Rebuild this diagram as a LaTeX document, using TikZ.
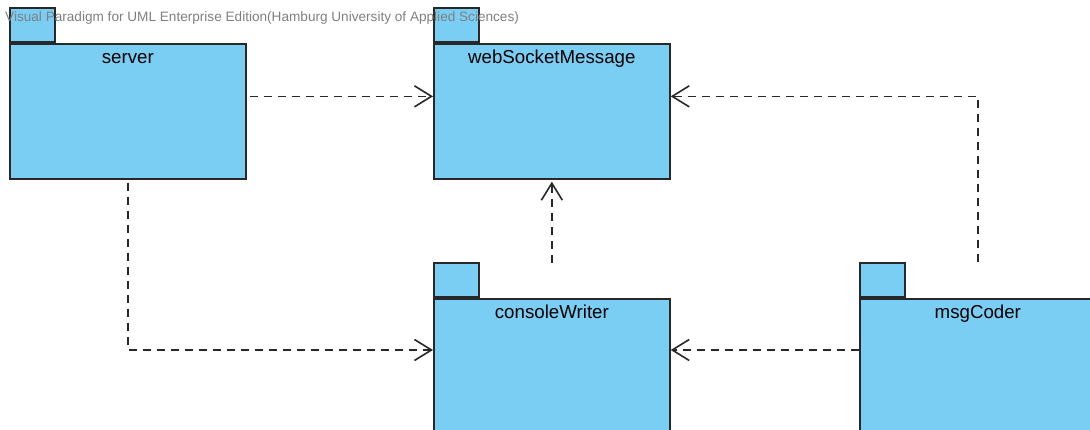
\documentclass[tikz,border=0pt]{standalone}
\usepackage{fontspec}
\setmainfont{Liberation Sans}
\usetikzlibrary{positioning, arrows.meta}
\definecolor{pkgfill}{RGB}{122,206,244}
\definecolor{pkgline}{RGB}{40,40,40}
\definecolor{depline}{RGB}{40,40,40}
\definecolor{vpgray}{RGB}{128,128,128}

\tikzset{
  pkg/.style={draw=pkgline, fill=pkgfill, line width=1.7pt, minimum width=236pt,
    minimum height=135pt, inner sep=0pt, anchor=north west},
  pkgtab/.style={draw=pkgline, fill=pkgfill, line width=1.7pt, minimum width=45pt,
    minimum height=34pt, inner sep=0pt, anchor=south west},
  pkgname/.style={font=\fontsize{18.7}{22}\selectfont, anchor=base, inner sep=0pt},
  dep/.style={draw=depline, line width=1.6pt, dash pattern=on 8pt off 6pt,
    -{Straight Barb[length=17pt, width=21pt]}}
}

\begin{document}
\begin{tikzpicture}[x=1pt, y=-1pt]
    \clip (0,0) rectangle (1090,430);
    \fill[white] (0,0) rectangle (1090,430);

    % packages
    \node[pkg] (srv) at (9,43) {};
    \node[pkg] (wsm) at (433,43) {};
    \node[pkg, minimum height=200pt] (cw) at (433,298) {};
    \node[pkg, minimum height=200pt] (msg) at (859,298) {};
    \node[pkgtab] (srvtab) at (srv.north west) {};
    \node[pkgtab] (wsmtab) at (wsm.north west) {};
    \node[pkgtab] (cwtab) at (cw.north west) {};
    \node[pkgtab] (msgtab) at (msg.north west) {};

    \node[pkgname] (srvname) at ([yshift=-21pt]srv.north) {server};
    \node[pkgname] (wsmname) at ([yshift=-21pt]wsm.north) {webSocketMessage};
    \node[pkgname] (cwname) at ([yshift=-21pt]cw.north) {consoleWriter};
    \node[pkgname] (msgname) at ([yshift=-21pt]msg.north) {msgCoder};

    % watermark
    \node[anchor=base west, inner sep=0pt, text=vpgray, font=\fontsize{13.6}{15}\selectfont]
        (vp) at (5,22) {Visual Paradigm for UML Enterprise Edition(Hamburg University of Applied Sciences)};

    % dependencies
    \draw[dep] ([xshift=3pt, yshift=15pt]srv.east) -- ([yshift=15pt]wsm.west);
    \draw[dep] ([yshift=36pt]msg.north) |- ([yshift=15pt]wsm.east);
    \draw[dep] ([yshift=35pt]cw.north) -- ([yshift=-2pt]wsm.south);
    \draw[dep] ([yshift=-3pt]srv.south) |- ([yshift=-52pt]cw.north west);
    \draw[dep] ([yshift=-52pt]msg.north west) -- ([yshift=-52pt]cw.north east);
\end{tikzpicture}
\end{document}
